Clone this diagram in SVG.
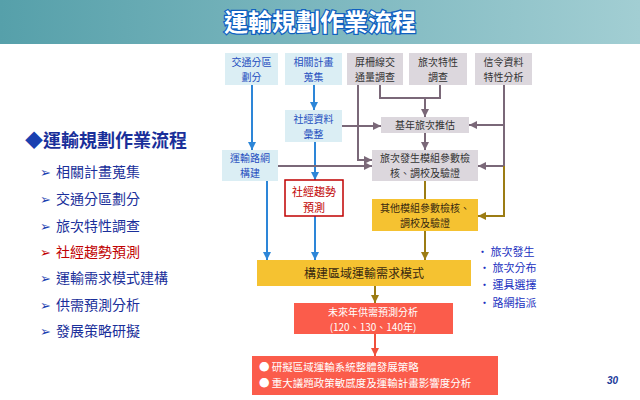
<svg xmlns="http://www.w3.org/2000/svg" width="640" height="400" viewBox="0 0 640 400">
<defs>
<linearGradient id="hdr" x1="0" y1="0" x2="1" y2="0">
<stop offset="0" stop-color="#56a0aa"/>
<stop offset="1" stop-color="#a2ced3"/>
</linearGradient>
<marker id="aB" markerUnits="userSpaceOnUse" markerWidth="8" markerHeight="8" refX="8" refY="4" orient="auto"><path d="M0,0 L8,4 L0,8 z" fill="#2d86d8"/></marker>
<marker id="aG" markerUnits="userSpaceOnUse" markerWidth="8" markerHeight="8" refX="8" refY="4" orient="auto"><path d="M0,0 L8,4 L0,8 z" fill="#7a6878"/></marker>
<marker id="aO" markerUnits="userSpaceOnUse" markerWidth="8" markerHeight="8" refX="8" refY="4" orient="auto"><path d="M0,0 L8,4 L0,8 z" fill="#9c7c14"/></marker>
<marker id="aR" markerUnits="userSpaceOnUse" markerWidth="8" markerHeight="8" refX="8" refY="4" orient="auto"><path d="M0,0 L8,4 L0,8 z" fill="#f0503c"/></marker>
</defs>
<style>
text{font-family:"Noto Sans CJK TC","Noto Sans CJK SC",sans-serif;}
.lb{fill:#dbeef4;}
.gr{fill:#dcd7dd;}
.ye{fill:#f5c231;}
.rd{fill:#fb5c4b;}
.tb{font-size:10px;fill:#1f4fbf;text-anchor:middle;}
.tg{font-size:10px;fill:#333333;text-anchor:middle;}
.tw{font-size:10px;fill:#ffffff;text-anchor:middle;}
.ty{font-size:10px;fill:#3a2a10;text-anchor:middle;}
.cB{stroke:#2d86d8;stroke-width:2;fill:none;marker-end:url(#aB);}
.cG{stroke:#7a6878;stroke-width:2;fill:none;}
.cGa{stroke:#7a6878;stroke-width:2;fill:none;marker-end:url(#aG);}
.cO{stroke:#9c7c14;stroke-width:2;fill:none;}
.cOa{stroke:#9c7c14;stroke-width:2;fill:none;marker-end:url(#aO);}
.cRa{stroke:#f0503c;stroke-width:2;fill:none;marker-end:url(#aR);}
.li{font-size:14px;fill:#1a2f9a;}
.ar{font-size:13px;fill:#1a40b0;}
.side{font-size:11px;fill:#2030c0;}
</style>
<rect x="0" y="0" width="640" height="400" fill="#ffffff"/>
<rect x="0" y="0" width="640" height="44" fill="url(#hdr)"/>
<text x="320" y="31" text-anchor="middle" font-size="24" font-weight="bold" fill="#ffffff" stroke="#1060c0" stroke-width="2.5" paint-order="stroke" style="font-family:'Noto Sans CJK TC',sans-serif">運輸規劃作業流程</text>

<g id="leftlist">
<text x="25" y="147" font-size="18" fill="#1a2f9a" font-weight="bold"><tspan fill="#1a40b0">◆</tspan>運輸規劃作業流程</text>
<text x="40" y="177" class="ar">➢</text><text x="56" y="177" class="li">相關計畫蒐集</text>
<text x="40" y="204" class="ar">➢</text><text x="56" y="204" class="li">交通分區劃分</text>
<text x="40" y="231" class="ar">➢</text><text x="56" y="231" class="li">旅次特性調查</text>
<text x="40" y="257" class="ar" style="fill:#c00000">➢</text><text x="56" y="257" class="li" style="fill:#c00000">社經趨勢預測</text>
<text x="40" y="283" class="ar">➢</text><text x="56" y="283" class="li">運輸需求模式建構</text>
<text x="40" y="310" class="ar">➢</text><text x="56" y="310" class="li">供需預測分析</text>
<text x="40" y="336" class="ar">➢</text><text x="56" y="336" class="li">發展策略研擬</text>
</g>

<g id="connectors">
<path class="cB" d="M252,85 V150"/>
<path class="cB" d="M314,85 V110"/>
<path class="cB" d="M315,142 V180"/>
<path class="cB" d="M267,181 V260"/>
<path class="cB" d="M315,216 V260"/>
<path class="cGa" d="M342,126 H381"/>
<path class="cGa" d="M358,85 V160 H372"/>
<path class="cG" d="M380,85 V98 H440 V85"/>
<path class="cGa" d="M425,98 V117"/>
<path class="cGa" d="M425,133 V150"/>
<path class="cGa" d="M504,85 V125 H469"/>
<path class="cGa" d="M504,125 V166 H478"/>
<path class="cGa" d="M278,166 H372"/>
<path class="cO" d="M425,181 V199"/>
<path class="cOa" d="M504,166 V216 H478"/>
<path class="cOa" d="M425,231 V260"/>
<path class="cOa" d="M375,286 V303"/>
<path class="cRa" d="M375,334 V356"/>
</g>

<g id="n1"><rect class="lb" x="225" y="53" width="53" height="32"/><text class="tb" x="251.5" y="66">交通分區</text><text class="tb" x="251.5" y="80.5">劃分</text></g>
<g id="n2"><rect class="lb" x="285" y="53" width="57" height="32"/><text class="tb" x="313.5" y="66">相關計畫</text><text class="tb" x="313.5" y="80.5">蒐集</text></g>
<g id="n3"><rect class="gr" x="347" y="53" width="56" height="32"/><text class="tg" x="375" y="66">屏柵線交</text><text class="tg" x="375" y="80.5">通量調查</text></g>
<g id="n4"><rect class="gr" x="409" y="53" width="58" height="32"/><text class="tg" x="438" y="66">旅次特性</text><text class="tg" x="438" y="80.5">調查</text></g>
<g id="n5"><rect class="gr" x="475" y="53" width="57" height="32"/><text class="tg" x="503.5" y="66">信令資料</text><text class="tg" x="503.5" y="80.5">特性分析</text></g>
<g id="n6"><rect class="lb" x="285" y="110" width="57" height="32"/><text class="tb" x="313.5" y="123">社經資料</text><text class="tb" x="313.5" y="137.5">彙整</text></g>
<g id="n7"><rect class="gr" x="381" y="117" width="88" height="16"/><text class="tg" x="425" y="129">基年旅次推估</text></g>
<g id="n8"><rect class="lb" x="222" y="150" width="56" height="31"/><text class="tb" x="250" y="162">運輸路網</text><text class="tb" x="250" y="176.5">構建</text></g>
<g id="n9"><rect class="gr" x="372" y="150" width="106" height="31"/><text class="tg" x="425" y="162">旅次發生模組參數檢</text><text class="tg" x="425" y="176.5">核、調校及驗證</text></g>
<g id="n10"><rect x="285" y="180" width="58" height="36" fill="#ffffff" stroke="#c00000" stroke-width="1.5"/><text x="314" y="196" font-size="11" fill="#c00000" text-anchor="middle">社經趨勢</text><text x="314" y="212" font-size="11" fill="#c00000" text-anchor="middle">預測</text></g>
<g id="n11"><rect class="ye" x="372" y="199" width="106" height="32"/><text class="ty" x="425" y="212">其他模組參數檢核、</text><text class="ty" x="425" y="226.5">調校及驗證</text></g>
<g id="n12"><rect class="ye" x="257" y="260" width="214" height="26"/><text x="364" y="278" font-size="12" fill="#3a2a10" text-anchor="middle">構建區域運輸需求模式</text></g>
<g id="n13"><rect class="rd" x="294" y="303" width="159" height="31"/><text class="tw" x="373" y="316">未來年供需預測分析</text><text class="tw" x="373" y="330.5">(120、130、140年)</text></g>
<g id="n14"><rect class="rd" x="252" y="356" width="246" height="39"/><text x="259" y="371" font-size="10.5" fill="#ffffff">●  研擬區域運輸系統整體發展策略</text><text x="259" y="386.5" font-size="10.5" fill="#ffffff">●  重大議題政策敏感度及運輸計畫影響度分析</text></g>

<g id="sidelabels">
<text class="side" x="477" y="256">• 旅次發生</text>
<text class="side" x="479" y="272">• 旅次分布</text>
<text class="side" x="479" y="289">• 運具選擇</text>
<text class="side" x="479" y="307">• 路網指派</text>
</g>
<text x="618" y="384" text-anchor="end" font-size="10" font-weight="bold" font-style="italic" fill="#1a3a9a" style="font-family:'Liberation Sans',sans-serif">30</text>
</svg>
